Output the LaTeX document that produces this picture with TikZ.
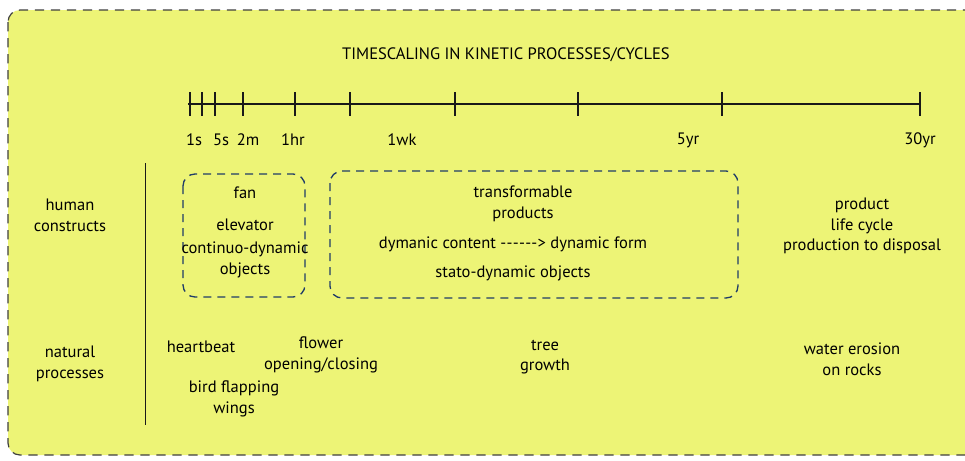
\documentclass[tikz,border=0pt]{standalone}
\usepackage{fontspec}
\setmainfont{PT Sans}
\usetikzlibrary{positioning}
\definecolor{paper}{RGB}{237,244,118}
\definecolor{boxblue}{RGB}{32,60,104}
\newcommand{\hy}{-\kern0.2pt}

\begin{document}
\begin{tikzpicture}[x=0.75pt,y=-0.75pt]
\tikzstyle{every node}=[font=\fontsize{12.4}{15.5}\selectfont, align=center, inner sep=0pt, text=black]
\tikzstyle{frame}=[draw=black!75, dash pattern=on 7pt off 5pt, rounded corners=9pt, line width=0.9pt]
\tikzstyle{group}=[draw=boxblue, dash pattern=on 6pt off 4.5pt, rounded corners=9pt, line width=1pt]
\tikzstyle{axis}=[draw=black!90, line width=0.9pt]
\useasboundingbox (0,0) rectangle (965,461);
\clip (0,0) rectangle (965,461);
\fill[white] (0,0) rectangle (965,461);
\draw[frame, fill=paper] (8,10) rectangle (995,455);

% title and time axis
\node (title) at (506,55) {TIMESCALING IN KINETIC PROCESSES/CYCLES};
\draw[axis] (188,104) -- (920,104);
\foreach \t in {190,202,215,243,295,350,455,578,722,920}
  \draw[axis] (\t,92) -- (\t,116);
\node (s1) at (194,140) {1s};
\node (s5) at (221,140) {5s};
\node (m2) at (248,140) {2m};
\node (hr1) at (293,140) {1hr};
\node (wk1) at (402,140) {1wk};
\node (yr5) at (688,140) {5yr};
\node (yr30) at (920,140) {30yr};

% rows
\draw[axis, line width=0.6pt] (145,163) -- (145,425);
\node (human) at (70,215) {human\\constructs};
\node (natural) at (70,364) {natural\\processes};

% human constructs
\draw[group] (183,174) rectangle (305,297);
\draw[group] (330,171) rectangle (738,298);
\node (fan) at (245,193) {fan};
\node (elevator) at (245,225) {elevator};
\node (continuo) at (245,260) {continuo-dynamic\\objects};
\node (transform) at (523,204) {transformable\\products};
\node (content) at (513,244) {dymanic content \hy\hy\hy\hy\hy\hy> dynamic form};
\node (stato) at (513,273) {stato-dynamic objects};
\node (lifecycle) at (862,226) {product\\life cycle\\production to disposal};

% natural processes
\node (heart) at (201,347) {heartbeat};
\node (bird) at (234,399) {bird flapping\\wings};
\node (flower) at (321,355) {flower\\opening/closing};
\node (tree) at (545,357) {tree\\growth};
\node (erosion) at (852,359) {water erosion\\on rocks};
\end{tikzpicture}
\end{document}
